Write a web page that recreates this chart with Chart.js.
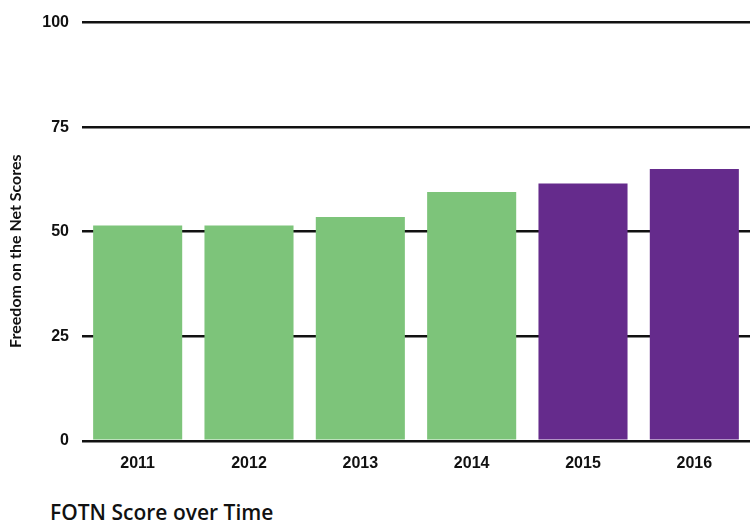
<!DOCTYPE html>
<html>
<head>
<meta charset="utf-8">
<script src="https://cdn.jsdelivr.net/npm/chart.js@4"></script>
<style>
    body { margin: 0; background: #fff; }
    #wrap { position: relative; width: 750px; height: 531px; }
    #chart { position: absolute; left: 0; top: 0; }
    #caption {
        position: absolute; left: 50px; top: 498px;
        font-family: "Open Sans", sans-serif; font-size: 21px; font-weight: 600; color: #111;
    }
</style>
</head>
<body>
<div id="wrap">
    <canvas id="chart" width="750" height="489"></canvas>
    <div id="caption">FOTN Score over Time</div>
</div>
<script>
// Données du graphique
const years = ['2011', '2012', '2013', '2014', '2015', '2016'];
const scores = [51.5, 51.5, 53.5, 59.5, 61.5, 65];
const barColors = ['#7dc47a', '#7dc47a', '#7dc47a', '#7dc47a', '#652b8c', '#652b8c'];
const yTicks = [0, 25, 50, 75, 100];

const tickFont = { family: '"Liberation Sans", sans-serif', size: 16, weight: 'bold' };

const ctx = document.getElementById('chart');

new Chart(ctx, {
    type: 'bar',
    data: {
        labels: years,
        datasets: [{
            data: scores,
            backgroundColor: barColors,
            borderWidth: 0,
            barPercentage: 0.8,
            categoryPercentage: 1
        }]
    },
    options: {
        responsive: false,
        animation: false,
        layout: {
            padding: { top: 21, right: 0, bottom: 11, left: 0 }
        },
        plugins: {
            legend: { display: false },
            tooltip: { enabled: false }
        },
        scales: {
            x: {
                grid: { display: false },
                border: { display: false },
                ticks: {
                    padding: 5,
                    color: '#111',
                    font: tickFont
                }
            },
            y: {
                min: 0,
                max: 100,
                afterBuildTicks: scale => {
                    scale.ticks = yTicks.map(v => ({ value: v }));
                },
                afterFit: scale => { scale.width = 82; },
                grid: {
                    color: '#111',
                    lineWidth: 2.5,
                    drawTicks: false
                },
                border: { display: false },
                ticks: {
                    padding: 13,
                    color: '#111',
                    font: tickFont
                },
                title: {
                    display: true,
                    // espaces en fin pour décaler le titre vers le bas
                    text: 'Freedom on the Net Scores          ',
                    color: '#111',
                    padding: { top: 6, bottom: 4 },
                    font: { family: 'Lato, sans-serif', size: 16, weight: 'bold' }
                }
            }
        }
    }
});
</script>
</body>
</html>
